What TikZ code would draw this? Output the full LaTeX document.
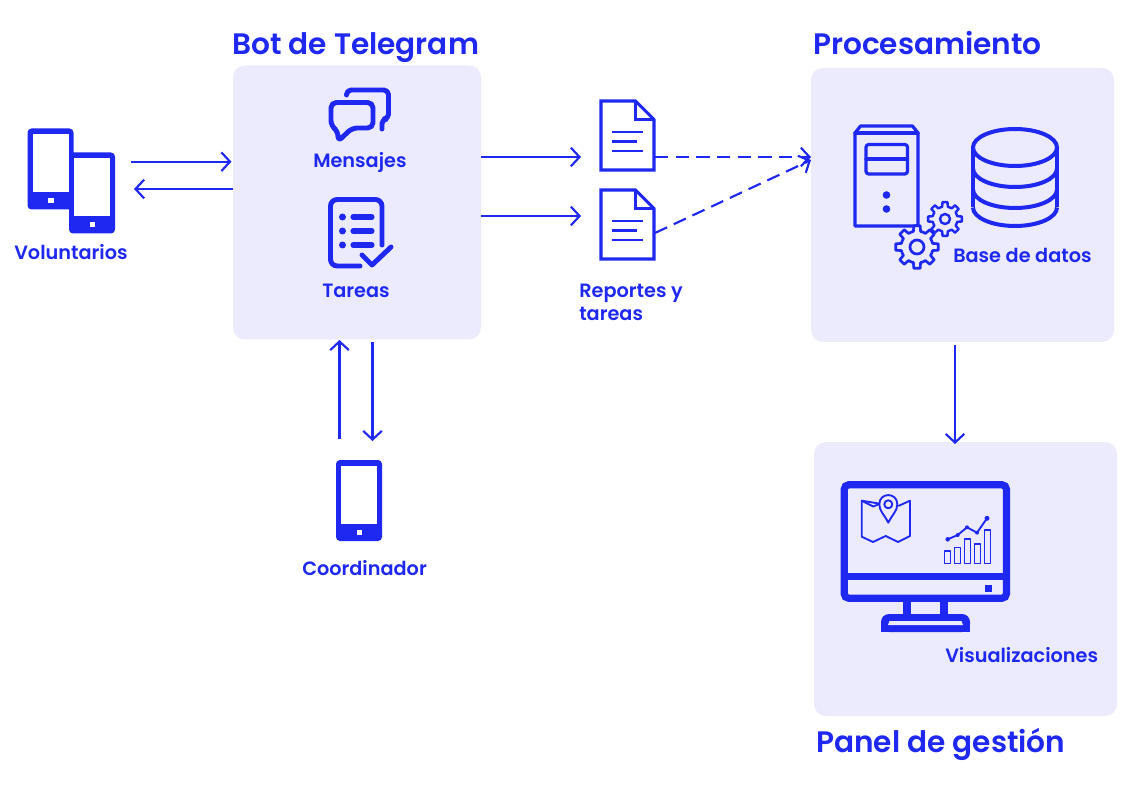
\documentclass[tikz,border=0pt]{standalone}
\usepackage{fontspec}
\setmainfont{Poppins SemiBold}
\usetikzlibrary{arrows.meta}
\definecolor{ink}{HTML}{1E28F0}
\definecolor{panelbg}{HTML}{ECEBFD}
\tikzset{
  panel/.style={fill=panelbg,draw=none,rounded corners=9pt,inner sep=0pt,outer sep=0pt},
  title/.style={anchor=base west,text=ink,inner sep=0pt,font=\fontsize{22.2}{26}\selectfont},
  label/.style={anchor=base west,text=ink,inner sep=0pt,font=\fontsize{14.45}{17}\selectfont},
  flow/.style={draw=ink,line width=1.6pt,-{Straight Barb[length=6.5pt,width=14pt,line width=1.6pt]}},
  dflow/.style={flow,dash pattern=on 10pt off 5.5pt},
  icon/.style={draw=ink,line width=2.4pt,line join=round,line cap=round},
  thinicon/.style={draw=ink,line width=1.4pt,line join=round},
  phone/.pic={
    \fill[ink,rounded corners=3pt] (0,0) rectangle (46,81);
    \fill[white] (5,5.5) rectangle (41,63.5);
    \fill[white] (20.5,69.5) rectangle (26,75);
  },
  doc/.pic={
    \draw[draw=ink,line width=2.3pt,line join=miter] (0,0) -- (34.5,0) -- (53,18.5) -- (53,69) -- (0,69) -- cycle;
    \draw[draw=ink,line width=2.3pt,line join=miter] (34.5,0) -- (34.5,18.5) -- (53,18.5);
    \draw[draw=ink,line width=2pt] (11,31) -- (42,31) (11,40.5) -- (36,40.5) (11,50) -- (42,50);
  }
}
\newcommand{\gearshape}[6]{% cx cy Ro Ri hole lw
  \draw[draw=ink,line width=#6,line join=round,fill=panelbg,shift={(#1,#2)}]
    (-22.5:#4) \foreach \a in {0,45,...,315} {
      -- (\a-13:#4) -- (\a-8.5:#3) -- (\a+8.5:#3) -- (\a+13:#4) -- (\a+22.5:#4)
    } -- cycle;
  \draw[draw=ink,line width=#6] (#1,#2) circle[radius=#5];
}
\newcommand{\band}[1]{%
  \draw[draw=ink,line width=3pt] (973,#1) .. controls (973,#1+10.2) and (991.8,#1+18.5) .. (1015,#1+18.5)
    .. controls (1038.2,#1+18.5) and (1057,#1+10.2) .. (1057,#1);
}
\begin{document}
\begin{tikzpicture}[x=.75pt,y=-.75pt]
\useasboundingbox (0,0) rectangle (1133,788);
\fill[white] (0,0) rectangle (1133,788);

% panels
\node[panel,minimum width=186pt,minimum height=205.5pt] (bot) at (357,202.5) {};
\node[panel,minimum width=227.25pt,minimum height=205.5pt] (proc) at (962.5,205) {};
\node[panel,minimum width=227.25pt,minimum height=205.5pt] (dash) at (965.5,579) {};

% titles
\node[title] (tbot) at (232,55) {Bot de Telegram};
\node[title] (tproc) at (813,55) {Procesamiento};
\node[title] (tdash) at (816,752) {Panel de gestión};

% phones
\pic at (27.5,128.5) {phone};
\pic at (69,152.5) {phone};
\pic at (336,460) {phone};

% messages icon
\draw[icon,line width=3.7pt,rounded corners=3.5pt] (346.5,95) -- (346.5,90) -- (388.5,90) -- (388.5,119) -- (382,119) -- (382,129);
\draw[icon,line width=3.7pt,rounded corners=4pt] (331,102.5) -- (373,102.5) -- (373,128) -- (352,128) -- (338,141.5) -- (338,131) -- (331,126) -- cycle;

% tasks icon
\draw[icon,line width=3.7pt,rounded corners=5pt] (382,245) -- (382,199.5) -- (330.5,199.5) -- (330.5,266) -- (360,266);
\fill[ink] (342.5,217) circle[radius=3.5] (342.5,231) circle[radius=3.5] (342.5,245) circle[radius=3.5];
\draw[icon,line width=3.8pt] (353,217) -- (372,217) (353,231) -- (372,231) (353,245) -- (372,245);
\draw[icon,line width=3.7pt] (362,255) -- (372,265) -- (391,247);

% documents
\pic at (601,101) {doc};
\pic at (601,190) {doc};

% server
\draw[icon] (855,133) -- (860.5,126) -- (912.5,126) -- (918,133) -- (918,226) -- (855,226) -- cycle;
\draw[icon] (855,133) -- (918,133);
\draw[icon,rounded corners=2pt] (866,144.5) rectangle (907.5,174);
\draw[icon] (866,159) -- (907.5,159);
\fill[ink] (886.5,195) circle[radius=3.8] (886.5,209) circle[radius=3.8];
\gearshape{945}{219}{17}{12.5}{5}{1.8pt}
\gearshape{917}{247}{21.5}{16}{7}{2pt}

% database
\draw[draw=ink,line width=3pt] (1015,147.5) ellipse[x radius=42,y radius=18.5];
\draw[draw=ink,line width=3pt] (973,147.5) -- (973,207.5) (1057,147.5) -- (1057,207.5);
\band{168.5}
\band{189.5}
\band{207.5}

% monitor
\draw[draw=ink,line width=5.4pt,rounded corners=3.5pt] (844.2,484.7) rectangle (1006.5,598.3);
\draw[draw=ink,line width=5.4pt] (844.2,576.8) -- (1006.5,576.8);
\fill[ink] (985,584.5) rectangle (992,591.5);
\draw[draw=ink,line width=5.4pt] (907,600) -- (907,616) (944,600) -- (944,616);
\fill[ink,rounded corners=6pt] (881,632) -- (881,614) -- (970,614) -- (970,632) -- cycle;
\fill[ink] (881,624) rectangle (970,632);
\fill[panelbg] (888,625) -- (889.5,621) -- (961.5,621) -- (963,625) -- cycle;
% map
\draw[thinicon] (880,503.7) -- (861.7,500.7) -- (861.7,536.7) -- (873,542) -- (885.7,536) -- (898,542) -- (910,536) -- (910,500.7) -- (898.3,506);
\draw[thinicon] (861.7,500.7) -- (873.3,506.5) -- (880,503.7);
\draw[thinicon,fill=panelbg] (888.3,522.7) .. controls (884,514) and (879.3,511) .. (879.3,504.3)
  .. controls (879.3,492) and (897.3,492) .. (897.3,504.3) .. controls (897.3,511) and (892.6,514) .. (888.3,522.7) -- cycle;
\draw[thinicon] (888.3,504.3) circle[radius=4];
% chart
\draw[thinicon] (944.5,551) rectangle (950.5,563.5) (954.5,547.5) rectangle (960.5,563.5)
  (964.5,539) rectangle (970.5,563.5) (974.5,544) rectangle (980.5,563.5) (984.5,530) rectangle (990.5,563.5);
\draw[thinicon] (947.7,539.3) -- (957.7,535) -- (967,527.3) -- (977,532.7) -- (987,518.3);
\fill[ink] (947.7,539.3) circle[radius=2.3] (957.7,535) circle[radius=2] (967,527.3) circle[radius=2] (977,532.7) circle[radius=2] (987,518.3) circle[radius=2.5];

% labels
\node[label] (lvol) at (14,259.5) {Voluntarios};
\node[label] (lmen) at (313,167.5) {Mensajes};
\node[label] (ltar) at (322,297.5) {Tareas};
\node[label] (lrep) at (579,297.5) {Reportes y};
\node[label] (lrep2) at (579,320.5) {tareas};
\node[label] (lbase) at (953,262.5) {Base de datos};
\node[label] (lcoord) at (302,575) {Coordinador};
\node[label] (lvis) at (945,662) {Visualizaciones};

% connector ends
\coordinate (volout) at (131,161.7);
\coordinate (botin) at (231.5,161.7);
\coordinate (botout) at (233,189);
\coordinate (volin) at (134,189);
\coordinate (botr1) at (481,157);
\coordinate (doc1in) at (581,157);
\coordinate (botr2) at (481,216);
\coordinate (doc2in) at (581,216);
\coordinate (doc1out) at (655,157);
\coordinate (doc2out) at (655,233);
\coordinate (procin1) at (811,157);
\coordinate (procin2) at (811,160);
\coordinate (coordout) at (339.5,439);
\coordinate (botbot) at (339.5,340);
\coordinate (botdown) at (372.5,342);
\coordinate (coordin) at (372.5,441);
\coordinate (procout) at (955,345);
\coordinate (dashin) at (955,444);

\draw[flow] (volout) -- (botin);
\draw[flow] (botout) -- (volin);
\draw[flow] (botr1) -- (doc1in);
\draw[flow] (botr2) -- (doc2in);
\draw[dflow] (doc1out) -- (procin1);
\draw[dflow] (doc2out) -- (procin2);
\draw[flow] (coordout) -- (botbot);
\draw[flow] (botdown) -- (coordin);
\draw[flow] (procout) -- (dashin);
\end{tikzpicture}
\end{document}
